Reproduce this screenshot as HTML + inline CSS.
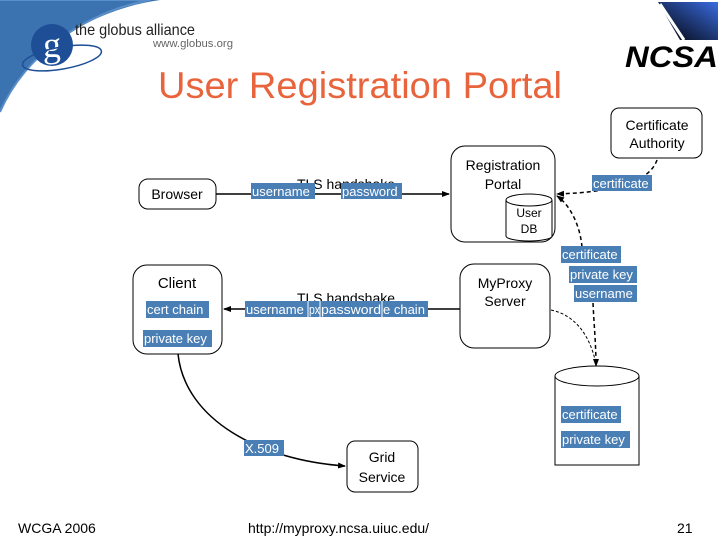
<!DOCTYPE html>
<html><head><meta charset="utf-8"><style>
body{margin:0;width:720px;height:540px;background:#fff;overflow:hidden;font-family:"Liberation Sans",sans-serif}
svg{position:absolute;left:0;top:0}
</style></head><body>
<svg width="720" height="540" viewBox="0 0 720 540" font-family="Liberation Sans, sans-serif">
<defs>
<marker id="a" markerWidth="8" markerHeight="8" refX="7" refY="4" orient="auto" markerUnits="userSpaceOnUse"><path d="M0,1 L8,4 L0,7z" fill="#000"/></marker>
<linearGradient id="ng" x1="0" y1="1" x2="1" y2="0"><stop offset="0" stop-color="#000"/><stop offset="1" stop-color="#3a6be0"/></linearGradient>
</defs>
<path d="M0,0 L160,0 C90,10 30,50 0,110 Z" fill="#3b72b0"/>
<path d="M0,0 L150,0 C85,12 25,55 0,112" fill="none" stroke="#5a8ec8" stroke-width="2"/>
<circle cx="52" cy="45" r="21" fill="#1d4e96"/>
<text x="52" y="57" font-family="Liberation Serif, serif" font-size="36" fill="#fff" text-anchor="middle">g</text>
<ellipse cx="62" cy="58" rx="40" ry="11" fill="none" stroke="#1d4e96" stroke-width="1.5" transform="rotate(-10 62 58)"/>
<text x="75" y="35" font-size="16" fill="#222" textLength="120" lengthAdjust="spacingAndGlyphs">the globus alliance</text>
<text x="153" y="47" font-size="11" fill="#666" textLength="80" lengthAdjust="spacingAndGlyphs">www.globus.org</text>
<path d="M658,2 L718,2 L718,40 L680,40 Z" fill="url(#ng)"/>
<path d="M660,4 L684,40" stroke="#fff" stroke-width="3"/>
<text x="625" y="67" font-size="30" font-weight="bold" font-style="italic" fill="#000" textLength="93" lengthAdjust="spacingAndGlyphs">NCSA</text>
<text x="158" y="98" font-size="37" fill="#e8643c" textLength="404" lengthAdjust="spacingAndGlyphs">User Registration Portal</text>
<g fill="#fff" stroke="#000" stroke-width="1">
<rect x="139" y="179" width="77" height="30" rx="9"/>
<rect x="133" y="265" width="89" height="89" rx="14"/>
<rect x="451" y="146" width="104" height="96" rx="14"/>
<rect x="611" y="108" width="91" height="50" rx="8"/>
<rect x="460" y="264" width="90" height="84" rx="14"/>
<rect x="347" y="441" width="71" height="51" rx="8"/>
<path d="M506,200 L506,236 A23,5 0 0 0 552,236 L552,200"/>
<ellipse cx="529" cy="200" rx="23" ry="6"/>
<path d="M555,376 L555,465 L639,465 L639,376"/>
<ellipse cx="597" cy="376" rx="42" ry="10"/>
</g>
<g fill="none" stroke="#000" stroke-width="1.5">
<line x1="216" y1="194" x2="449" y2="194" marker-end="url(#a)"/>
<line x1="460" y1="309" x2="224" y2="309" marker-end="url(#a)"/>
<path d="M178,354 C185,420 260,460 345,466" marker-end="url(#a)"/>
<path d="M657,160 C650,180 620,192 557,194" stroke-dasharray="4,3" marker-end="url(#a)"/>
<path d="M582,247 C580,225 570,205 557,196" stroke-dasharray="4,3" marker-end="url(#a)"/>
<path d="M593,303 C594,325 596,345 596,366" stroke-dasharray="4,3" marker-end="url(#a)"/>
<path d="M551,310 C575,315 590,335 596,364" stroke-width="1" stroke-dasharray="3,2"/>
</g>
<g font-size="14" fill="#000" text-anchor="middle">
<text x="177" y="199">Browser</text>
<text x="177" y="288" font-size="15">Client</text>
<text x="346" y="189">TLS handshake</text>
<text x="346" y="303">TLS handshake</text>
<text x="503" y="170">Registration</text>
<text x="503" y="189">Portal</text>
<text x="529" y="217" font-size="12">User</text>
<text x="529" y="233" font-size="12">DB</text>
<text x="657" y="130">Certificate</text>
<text x="657" y="148">Authority</text>
<text x="505" y="288">MyProxy</text>
<text x="505" y="306">Server</text>
<text x="382" y="462">Grid</text>
<text x="382" y="482">Service</text>
</g>
<g fill="#4a7fb5">
<rect x="251" y="183" width="64" height="16"/><rect x="341" y="183" width="61" height="16"/>
<rect x="146" y="301" width="63" height="17"/><rect x="143" y="330" width="69" height="17"/>
<rect x="245" y="301" width="183" height="16"/>
<rect x="592" y="175" width="60" height="16"/>
<rect x="561" y="246" width="60" height="17"/><rect x="569" y="266" width="68" height="17"/><rect x="574" y="285" width="63" height="17"/>
<rect x="561" y="406" width="60" height="17"/><rect x="561" y="431" width="69" height="17"/>
<rect x="244" y="440" width="40" height="16"/>
</g>
<g stroke="#fff" stroke-width="1"><line x1="308" y1="301" x2="308" y2="317"/><line x1="320" y1="301" x2="320" y2="317"/><line x1="382" y1="301" x2="382" y2="317"/></g>
<g font-size="13" fill="#fff">
<text x="252" y="196">username</text><text x="342" y="196">password</text>
<text x="147" y="314">cert chain</text><text x="144" y="343">private key</text>
<text x="246" y="314">username</text><text x="309" y="314" textLength="11" lengthAdjust="spacingAndGlyphs">px</text><text x="321" y="314" textLength="60" lengthAdjust="spacingAndGlyphs">password</text><text x="383" y="314">e chain</text>
<text x="593" y="188">certificate</text>
<text x="562" y="259">certificate</text><text x="570" y="279">private key</text><text x="575" y="298">username</text>
<text x="562" y="419">certificate</text><text x="562" y="444">private key</text>
<text x="245" y="453">X.509</text>
</g>
<g font-size="14" fill="#000">
<text x="18" y="533">WCGA 2006</text>
<text x="248" y="533">http://myproxy.ncsa.uiuc.edu/</text>
<text x="677" y="533">21</text>
</g>
</svg>
</body></html>
